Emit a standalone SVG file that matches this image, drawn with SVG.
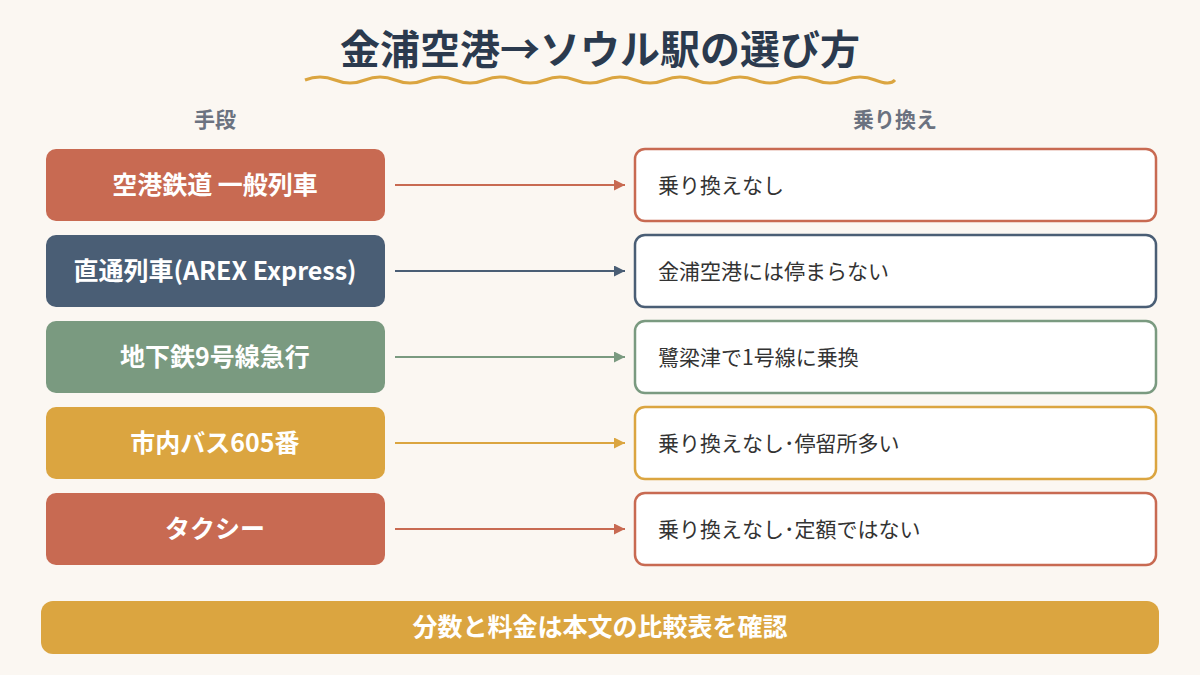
<svg xmlns="http://www.w3.org/2000/svg" width="1200" height="675" viewBox="0 0 1200 675">
<style>
text{font-family:"Noto Sans CJK JP","Noto Sans",sans-serif}
.l{font-size:25px;font-weight:bold;fill:#fff;text-anchor:middle}
.r{font-size:21px;fill:#333}
.h{font-size:21px;font-weight:bold;fill:#6b7280;text-anchor:middle}
.rb{fill:#fff;stroke-width:2.5}
</style>
<defs>
<marker id="ar" viewBox="0 0 10 10" refX="10" refY="5" markerWidth="10" markerHeight="10" markerUnits="userSpaceOnUse" orient="auto"><path d="M0,0L10,5L0,10z" fill="context-stroke"/></marker>
<marker id="a1" viewBox="0 0 10 10" refX="10" refY="5" markerWidth="11" markerHeight="11" markerUnits="userSpaceOnUse" orient="auto"><path d="M0,0L10,5L0,10z" fill="#c86a52"/></marker>
<marker id="a2" viewBox="0 0 10 10" refX="10" refY="5" markerWidth="11" markerHeight="11" markerUnits="userSpaceOnUse" orient="auto"><path d="M0,0L10,5L0,10z" fill="#4a5e75"/></marker>
<marker id="a3" viewBox="0 0 10 10" refX="10" refY="5" markerWidth="11" markerHeight="11" markerUnits="userSpaceOnUse" orient="auto"><path d="M0,0L10,5L0,10z" fill="#7a9a80"/></marker>
<marker id="a4" viewBox="0 0 10 10" refX="10" refY="5" markerWidth="11" markerHeight="11" markerUnits="userSpaceOnUse" orient="auto"><path d="M0,0L10,5L0,10z" fill="#dba540"/></marker>
</defs>
<rect width="1200" height="675" fill="#fbf7f2"/>
<g id="title">
<text x="600" y="64" text-anchor="middle" font-size="40" font-weight="bold" fill="#2b3a4e">金浦空港→ソウル駅の選び方</text>
<path d="M305,80 Q320,74 335,80 T365,80 T395,80 T425,80 T455,80 T485,80 T515,80 T545,80 T575,80 T605,80 T635,80 T665,80 T695,80 T725,80 T755,80 T785,80 T815,80 T845,80 T875,80 T895,80" fill="none" stroke="#dba540" stroke-width="3"/>
</g>
<text class="h" x="215" y="127">手段</text>
<text class="h" x="895" y="127">乗り換え</text>
<g id="n1"><rect x="46" y="149" width="339" height="72" rx="10" fill="#c86a52"/><text class="l" x="215" y="194">空港鉄道 一般列車</text></g>
<g id="n2"><rect x="46" y="235" width="339" height="72" rx="10" fill="#4a5e75"/><text class="l" x="215" y="280" font-size="23">直通列車(AREX Express)</text></g>
<g id="n3"><rect x="46" y="321" width="339" height="72" rx="10" fill="#7a9a80"/><text class="l" x="215" y="366">地下鉄9号線急行</text></g>
<g id="n4"><rect x="46" y="407" width="339" height="72" rx="10" fill="#dba540"/><text class="l" x="215" y="452">市内バス605番</text></g>
<g id="n5"><rect x="46" y="493" width="339" height="72" rx="10" fill="#c86a52"/><text class="l" x="215" y="538">タクシー</text></g>
<g id="m1"><rect class="rb" x="635" y="149" width="521" height="72" rx="10" stroke="#c86a52"/><text class="r" x="658" y="193">乗り換えなし</text></g>
<g id="m2"><rect class="rb" x="635" y="235" width="521" height="72" rx="10" stroke="#4a5e75"/><text class="r" x="658" y="279">金浦空港には停まらない</text></g>
<g id="m3"><rect class="rb" x="635" y="321" width="521" height="72" rx="10" stroke="#7a9a80"/><text class="r" x="658" y="365">鷺梁津で1号線に乗換</text></g>
<g id="m4"><rect class="rb" x="635" y="407" width="521" height="72" rx="10" stroke="#dba540"/><text class="r" x="658" y="451">乗り換えなし･停留所多い</text></g>
<g id="m5"><rect class="rb" x="635" y="493" width="521" height="72" rx="10" stroke="#c86a52"/><text class="r" x="658" y="537">乗り換えなし･定額ではない</text></g>
<g id="connectors" stroke-width="2">
<line x1="395" y1="185" x2="625" y2="185" stroke="#c86a52" marker-end="url(#a1)"/>
<line x1="395" y1="271" x2="625" y2="271" stroke="#4a5e75" marker-end="url(#a2)"/>
<line x1="395" y1="357" x2="625" y2="357" stroke="#7a9a80" marker-end="url(#a3)"/>
<line x1="395" y1="443" x2="625" y2="443" stroke="#dba540" marker-end="url(#a4)"/>
<line x1="395" y1="529" x2="625" y2="529" stroke="#c86a52" marker-end="url(#a1)"/>
</g>
<g id="footer"><rect x="41" y="601" width="1118" height="53" rx="12" fill="#dba540"/><text class="l" x="600" y="636" font-size="24">分数と料金は本文の比較表を確認</text></g>
</svg>
